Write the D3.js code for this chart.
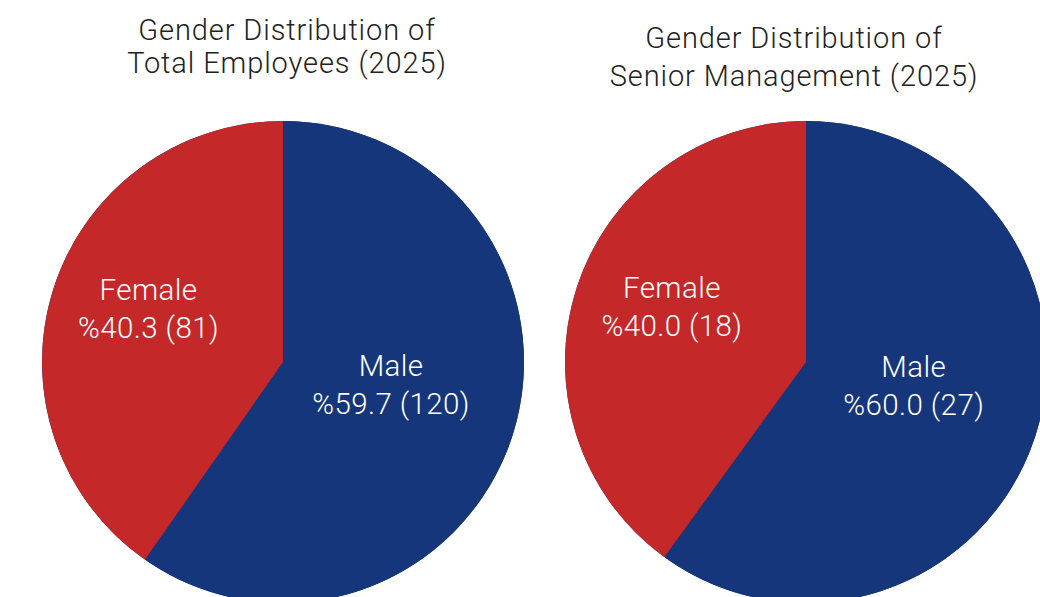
<!DOCTYPE html>
<html><head><meta charset="utf-8">
<script src="https://cdn.jsdelivr.net/npm/d3@7"></script>
<style>html,body{margin:0;padding:0;background:#fff;overflow:hidden}</style>
</head><body>
<svg id="c" width="1040" height="597"></svg>
<script>
const categories = ["Male", "Female"];
const totalEmployees = [120, 81];
const seniorManagement = [27, 18];
const titles = [
  ["Gender Distribution of", "Total Employees (2025)"],
  ["Gender Distribution of", "Senior Management (2025)"]
];
const colors = {Male: "#15367A", Female: "#C42829"};

const svg = d3.select("#c");
const R = 241;
const FONT = "Roboto, 'Open Sans', sans-serif";

const pies = [
  {data: totalEmployees, cx: 283, cy: 362, title: titles[0], tx: 287, ty: [40, 73]},
  {data: seniorManagement, cx: 806, cy: 362, title: titles[1], tx: 794, ty: [48, 86]}
];
const labelR = {Male: 0.47, Female: 0.585};

const pie = d3.pie().sort(null).value(d => d.v);
const arc = d3.arc().innerRadius(0).outerRadius(R);

pies.forEach(p => {
  const g = svg.append("g").attr("transform", `translate(${p.cx},${p.cy})`);
  const rows = categories.map((c, i) => ({c, v: p.data[i]}));
  const total = d3.sum(p.data);
  g.append("circle").attr("r", R).attr("fill", colors.Male);
  const arcs = pie(rows);
  g.selectAll("path").data(arcs).join("path")
    .attr("d", arc).attr("fill", d => colors[d.data.c]);
  arcs.forEach(a => {
    const lr = R * labelR[a.data.c];
    const la = d3.arc().innerRadius(lr).outerRadius(lr);
    const [x, y] = la.centroid(a);
    const pct = (a.data.v / total * 100).toFixed(1);
    const t = g.append("text").attr("text-anchor", "middle")
      .attr("fill", "#fff").attr("font-family", FONT).attr("font-weight", 300)
      .attr("font-size", 29.5).attr("letter-spacing", 0.4);
    t.append("tspan").attr("x", x).attr("y", y - 20).text(a.data.c);
    t.append("tspan").attr("x", x).attr("y", y + 18).text(`%${pct} (${a.data.v})`);
  });
  p.title.forEach((line, i) => {
    svg.append("text").attr("text-anchor", "middle")
      .attr("fill", "#222").attr("font-family", FONT).attr("font-weight", 300)
      .attr("font-size", 29).attr("letter-spacing", 0.9)
      .attr("x", p.tx).attr("y", p.ty[i]).text(line);
  });
});
</script>
</body></html>
